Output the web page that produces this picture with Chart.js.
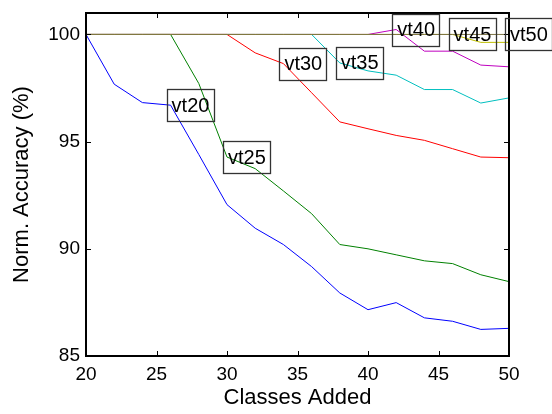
<!DOCTYPE html>
<html>
<head>
<meta charset="utf-8">
<script src="https://cdn.jsdelivr.net/npm/chart.js@4/dist/chart.umd.min.js"></script>
<style>
  html, body { margin: 0; padding: 0; background: #fff; }
  #wrap { width: 552px; height: 414px; }
</style>
</head>
<body>
<div id="wrap"><canvas id="myChart" width="552" height="414"></canvas></div>
<script>
// dane
const classes = [20, 22, 24, 26, 28, 30, 32, 34, 36, 38, 40, 42, 44, 46, 48, 50];
const vt20 = [100, 97.68, 96.82, 96.7, 94.4, 92.06, 90.96, 90.2, 89.17, 87.94, 87.16, 87.49, 86.78, 86.62, 86.24, 86.29];
const vt25 = [100, 100, 100, 100, 97.71, 94.28, 93.74, 92.7, 91.64, 90.2, 90.0, 89.72, 89.44, 89.31, 88.79, 88.47];
const vt30 = [100, 100, 100, 100, 100, 100, 99.14, 98.64, 97.28, 95.92, 95.6, 95.29, 95.06, 94.67, 94.28, 94.25];
const vt35 = [100, 100, 100, 100, 100, 100, 100, 100, 100, 98.67, 98.3, 98.1, 97.43, 97.43, 96.8, 97.04];
const vt40 = [100, 100, 100, 100, 100, 100, 100, 100, 100, 100, 100, 100.23, 99.22, 99.22, 98.57, 98.49];
const vt45 = [100, 100, 100, 100, 100, 100, 100, 100, 100, 100, 100, 100, 100, 100, 99.63, 99.63];
const vt50 = [100, 100, 100, 100, 100, 100, 100, 100, 100, 100, 100, 100, 100, 100, 100, 100];

const xTicks = [20, 25, 30, 35, 40, 45, 50];
const yTicks = [85, 90, 95, 100];

// etykiety w ramkach
const labelText = ['vt20', 'vt25', 'vt30', 'vt35', 'vt40', 'vt45', 'vt50'];
const labelX = [26, 30, 34, 38, 42, 46, 50];
const labelY = [96.7, 94.28, 98.64, 98.67, 100.23, 100, 100];

const FONT = '"Liberation Sans", Arial, Helvetica, sans-serif';

function series(label, values, color) {
    return {
        label: label,
        data: classes.map((c, i) => ({ x: c, y: values[i] })),
        borderColor: color,
        borderWidth: 1,
        pointRadius: 0,
        fill: false,
        tension: 0
    };
}

// ramka + ticki do srodka (styl MATLAB)
const boxPlugin = {
    id: 'boxPlugin',
    afterDraw(chart) {
        const ctx = chart.ctx;
        const a = chart.chartArea;
        const xs = chart.scales.x, ys = chart.scales.y;
        ctx.save();
        ctx.strokeStyle = '#000';
        ctx.lineWidth = 1;
        const t = 5;
        ctx.beginPath();
        xTicks.forEach(v => {
            const px = Math.round(xs.getPixelForValue(v)) + 0.5;
            ctx.moveTo(px, a.bottom); ctx.lineTo(px, a.bottom - t);
            ctx.moveTo(px, a.top); ctx.lineTo(px, a.top + t);
        });
        yTicks.forEach(v => {
            const py = Math.round(ys.getPixelForValue(v)) + 0.5;
            ctx.moveTo(a.left, py); ctx.lineTo(a.left + t, py);
            ctx.moveTo(a.right, py); ctx.lineTo(a.right - t, py);
        });
        ctx.stroke();
        ctx.lineWidth = 2;
        ctx.strokeRect(a.left, a.top, a.right - a.left, a.bottom - a.top);

        // etykiety vtXX
        ctx.font = '20px ' + FONT;
        ctx.textBaseline = 'middle';
        ctx.textAlign = 'left';
        labelText.forEach((txt, i) => {
            const px = xs.getPixelForValue(labelX[i]);
            const py = ys.getPixelForValue(labelY[i]);
            const w = ctx.measureText(txt).width;
            ctx.lineWidth = 1.3;
            ctx.strokeStyle = '#333';
            ctx.strokeRect(Math.round(px - 4) + 0.5, Math.round(py - 16) + 0.5, Math.round(w + 9), 32);
            ctx.fillStyle = '#000';
            ctx.fillText(txt, px + 1, py + 1);
        });
        ctx.restore();
    }
};

const ctx = document.getElementById('myChart').getContext('2d');
const myChart = new Chart(ctx, {
    type: 'line',
    data: {
        datasets: [
            series('vt20', vt20, '#0000ff'),
            series('vt25', vt25, '#008000'),
            series('vt30', vt30, '#ff0000'),
            series('vt35', vt35, '#00bfbf'),
            series('vt40', vt40, '#bf00bf'),
            series('vt45', vt45, '#bfbf00'),
            series('vt50', vt50, '#7d7345')
        ].reverse()
    },
    options: {
        responsive: false,
        animation: false,
        layout: { padding: { left: 0, right: 43, top: 13, bottom: 0 } },
        plugins: {
            legend: { display: false },
            tooltip: { enabled: false }
        },
        scales: {
            x: {
                type: 'linear',
                min: 20,
                max: 50,
                afterFit: s => { s.height = 58; s.paddingLeft = 0; s.paddingRight = 0; },
                afterBuildTicks: s => { s.ticks = xTicks.map(v => ({ value: v })); },
                grid: { drawOnChartArea: false, drawTicks: false },
                border: { display: false },
                ticks: {
                    color: '#000',
                    padding: 7,
                    maxRotation: 0,
                    font: { family: FONT, size: 19 }
                },
                title: {
                    display: true,
                    text: 'Classes Added',
                    color: '#000',
                    padding: { top: 0, bottom: 3 },
                    font: { family: FONT, size: 22 }
                }
            },
            y: {
                type: 'linear',
                min: 85,
                max: 101,
                afterFit: s => { s.width = 86; s.paddingTop = 0; s.paddingBottom = 0; },
                afterBuildTicks: s => { s.ticks = yTicks.map(v => ({ value: v })); },
                grid: { drawOnChartArea: false, drawTicks: false },
                border: { display: false },
                ticks: {
                    color: '#000',
                    padding: 6,
                    font: { family: FONT, size: 19 }
                },
                title: {
                    display: true,
                    text: 'Norm. Accuracy (%)',
                    color: '#000',
                    padding: { top: 9, bottom: 0 },
                    font: { family: FONT, size: 22 }
                }
            }
        }
    },
    plugins: [boxPlugin]
});
</script>
</body>
</html>
